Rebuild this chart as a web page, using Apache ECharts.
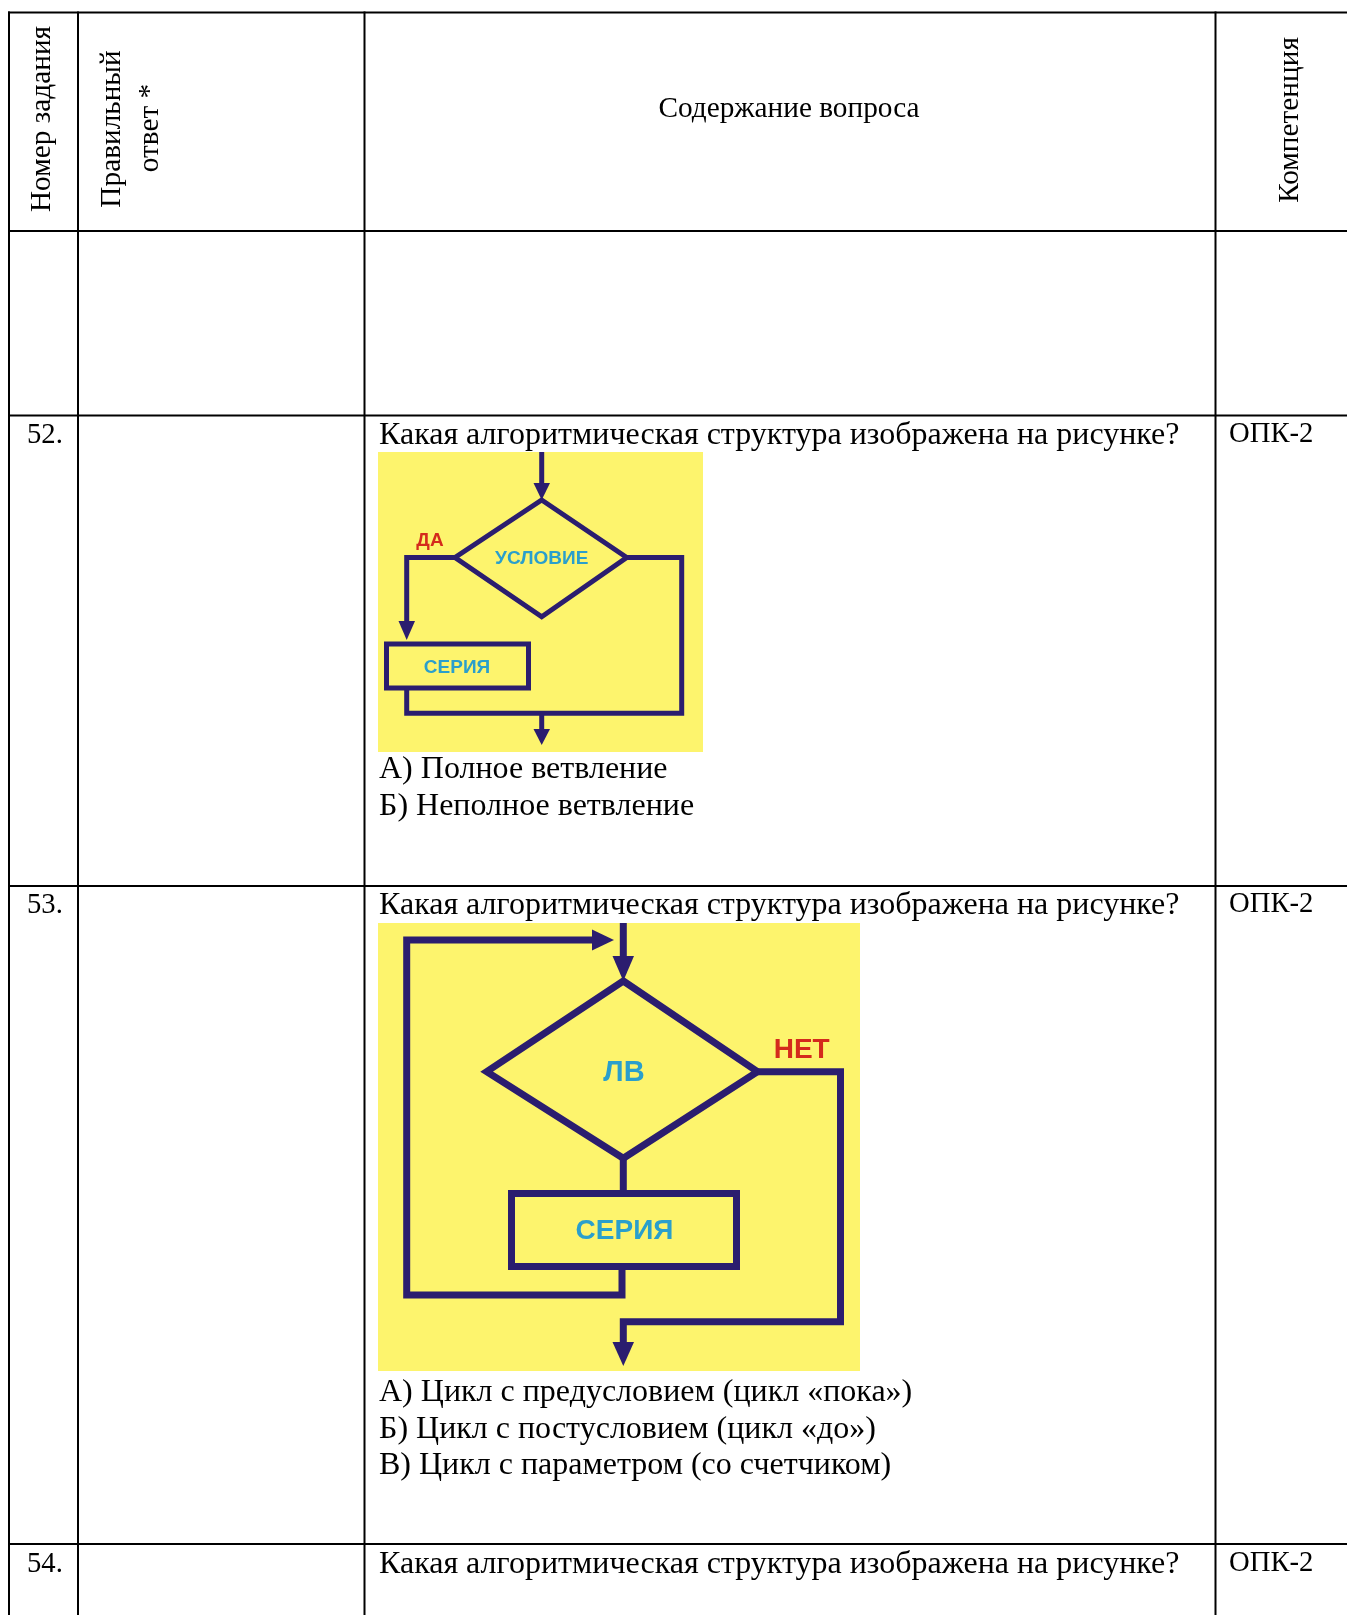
<!DOCTYPE html>
<html><head><meta charset="utf-8">
<script src="https://cdn.jsdelivr.net/npm/echarts@6/dist/echarts.min.js"></script>
<style>html,body{margin:0;padding:0;background:#fff}#c{width:1347px;height:1615px}</style>
</head><body><div id="c"></div>
<script>
// ---------------- data ----------------
const headerTitles = ['Номер задания', 'Правильный\nответ *', 'Содержание вопроса', 'Компетенция'];
const taskNumbers = ['52.', '53.', '54.'];
const questionTexts = [
  'Какая алгоритмическая структура изображена на рисунке?',
  'Какая алгоритмическая структура изображена на рисунке?',
  'Какая алгоритмическая структура изображена на рисунке?'
];
const competences = ['ОПК-2', 'ОПК-2', 'ОПК-2'];
const answerOptions52 = ['А) Полное ветвление', 'Б) Неполное ветвление'];
const answerOptions53 = [
  'А) Цикл с предусловием (цикл «пока»)',
  'Б) Цикл с постусловием (цикл «до»)',
  'В) Цикл с параметром (со счетчиком)'
];
const flowchart52Labels = ['ДА', 'УСЛОВИЕ', 'СЕРИЯ'];
const flowchart53Labels = ['НЕТ', 'ЛВ', 'СЕРИЯ'];

// ---------------- layout / style ----------------
const W = 1347, H = 1615;
const SERIF = '"Liberation Serif","Times New Roman",serif';
const SANS = '"Liberation Sans",Arial,sans-serif';
const FS_HEAD = 29.3, FS_BODY = 32, FS_CELL = 28.7;
const colEdges = [9, 78, 364.5, 1215.5];
const rowEdges = [12.5, 231, 415.5, 886, 1544];
const rowTextMid = [435, 905, 1564];
const NAVY = '#2b1d6f', YELLOW = '#fdf46d', CYAN = '#2a9fcc', RED = '#d42a1c';

const items = [];
// table grid
rowEdges.forEach(y => items.push({kind:'polyline', pts:[[colEdges[0]-1, y],[W, y]], color:'#000', lw:2}));
colEdges.forEach(x => items.push({kind:'polyline', pts:[[x, rowEdges[0]-1],[x, H]], color:'#000', lw:2}));

// header texts
const hdrPos = [
  [{x:42, y:119}],
  [{x:112, y:129}, {x:150, y:128}],
  [{x:789, y:109}],
  [{x:1290, y:120}]
];
headerTitles.forEach((t, i) => {
  t.split('\n').forEach((ln, j) => {
    const p = hdrPos[i][j];
    items.push({kind:'text', text:ln, x:p.x, y:p.y, size:FS_HEAD, family:SERIF, align:'center', valign:'middle',
      rot: i === 2 ? 0 : Math.PI / 2});
  });
});
// body rows
taskNumbers.forEach((t, i) => {
  items.push({kind:'text', text:t, x:27, y:rowTextMid[i], size:FS_CELL, family:SERIF});
  items.push({kind:'text', text:questionTexts[i], x:379, y:rowTextMid[i]+1, size:FS_BODY, family:SERIF});
  items.push({kind:'text', text:competences[i], x:1229, y:rowTextMid[i]-1, size:FS_CELL, family:SERIF});
});
answerOptions52.forEach((t, i) => items.push({kind:'text', text:t, x:379, y:770 + i*37, size:FS_BODY, family:SERIF}));
answerOptions53.forEach((t, i) => items.push({kind:'text', text:t, x:379, y:1393 + i*36.5, size:FS_BODY, family:SERIF}));

// flowchart 52 (branching)
items.push({kind:'rect', x:378, y:452, w:325, h:300, fill:YELLOW});
items.push({kind:'polyline', pts:[[541.7,452],[541.7,486]], color:NAVY, lw:5});
items.push({kind:'polygon', pts:[[533.5,483],[550,483],[541.7,500]], fill:NAVY});
items.push({kind:'polygon', pts:[[541.7,500],[626.7,557.5],[541.7,616.7],[455,557.5]], stroke:NAVY, lw:5});
items.push({kind:'polyline', pts:[[455,557.5],[406.7,557.5],[406.7,625]], color:NAVY, lw:5});
items.push({kind:'polygon', pts:[[398.5,621],[415,621],[406.7,640]], fill:NAVY});
items.push({kind:'rect', x:386.5, y:644, w:142, h:44, stroke:NAVY, lw:5});
items.push({kind:'polyline', pts:[[626.7,557.5],[681.7,557.5],[681.7,713.3],[406.7,713.3],[406.7,688]], color:NAVY, lw:5});
items.push({kind:'polyline', pts:[[541.7,713.3],[541.7,733]], color:NAVY, lw:5});
items.push({kind:'polygon', pts:[[533.5,729],[550,729],[541.7,745]], fill:NAVY});
items.push({kind:'text', text:flowchart52Labels[0], x:430, y:541, size:19, family:SANS, weight:'bold', color:RED, align:'center'});
items.push({kind:'text', text:flowchart52Labels[1], x:541.7, y:559, size:19, family:SANS, weight:'bold', color:CYAN, align:'center'});
items.push({kind:'text', text:flowchart52Labels[2], x:457, y:668, size:19, family:SANS, weight:'bold', color:CYAN, align:'center'});

// flowchart 53 (loop with precondition)
items.push({kind:'rect', x:378, y:923, w:482, h:448, fill:YELLOW});
items.push({kind:'polyline', pts:[[623.3,923],[623.3,962]], color:NAVY, lw:7});
items.push({kind:'polygon', pts:[[612.5,956],[634,956],[623.3,981]], fill:NAVY});
items.push({kind:'polyline', pts:[[622,1266.5],[622,1295],[406.7,1295],[406.7,940],[596,940]], color:NAVY, lw:7});
items.push({kind:'polygon', pts:[[592,929.5],[592,950.5],[614,940]], fill:NAVY});
items.push({kind:'polygon', pts:[[623.3,981],[757.5,1071.7],[623.3,1158.3],[486.7,1071.7]], stroke:NAVY, lw:7});
items.push({kind:'polyline', pts:[[623.3,1158],[623.3,1193.5]], color:NAVY, lw:7});
items.push({kind:'rect', x:511.5, y:1193.5, w:225, h:73, stroke:NAVY, lw:7});
items.push({kind:'polyline', pts:[[757.5,1071.7],[840.5,1071.7],[840.5,1321.7],[623.3,1321.7],[623.3,1346]], color:NAVY, lw:7});
items.push({kind:'polygon', pts:[[612.5,1342],[634,1342],[623.3,1366]], fill:NAVY});
items.push({kind:'text', text:flowchart53Labels[0], x:801.7, y:1050, size:28, family:SANS, weight:'bold', color:RED, align:'center'});
items.push({kind:'text', text:flowchart53Labels[1], x:624, y:1073, size:29, family:SANS, weight:'bold', color:CYAN, align:'center'});
items.push({kind:'text', text:flowchart53Labels[2], x:624.5, y:1231, size:28, family:SANS, weight:'bold', color:CYAN, align:'center'});

function renderItem(params, api) {
  const it = items[params.dataIndex];
  const c = p => api.coord(p);
  if (it.kind === 'polyline') {
    return {type:'polyline', shape:{points: it.pts.map(c)}, style:{stroke:it.color, lineWidth:it.lw, fill:null, lineJoin:'miter', lineCap:'butt'}};
  }
  if (it.kind === 'polygon') {
    return {type:'polygon', shape:{points: it.pts.map(c)}, style:{fill:it.fill || null, stroke:it.stroke || null, lineWidth:it.lw || 0, lineJoin:'miter'}};
  }
  if (it.kind === 'rect') {
    const a = c([it.x, it.y]), b = c([it.x + it.w, it.y + it.h]);
    return {type:'rect', shape:{x:a[0], y:a[1], width:b[0]-a[0], height:b[1]-a[1]}, style:{fill:it.fill || null, stroke:it.stroke || null, lineWidth:it.lw || 0}};
  }
  const p = c([it.x, it.y]);
  return {type:'text', x:p[0], y:p[1], rotation:it.rot || 0,
    style:{text:it.text, x:0, y:0, fill:it.color || '#000', fontSize:it.size, fontFamily:it.family, fontWeight:it.weight || 'normal',
      align:it.align || 'left', verticalAlign:it.valign || 'middle'}};
}

const chart = echarts.init(document.getElementById('c'), null, {renderer:'canvas', width:W, height:H});
chart.setOption({
  animation:false,
  backgroundColor:'#fff',
  grid:{left:0, right:0, top:0, bottom:0},
  xAxis:{type:'value', min:0, max:W, show:false},
  yAxis:{type:'value', min:0, max:H, inverse:true, show:false},
  series:[{type:'custom', coordinateSystem:'cartesian2d', clip:false, silent:true,
    data: items.map((_, i) => [i, 0]), renderItem}]
});
</script></body></html>
